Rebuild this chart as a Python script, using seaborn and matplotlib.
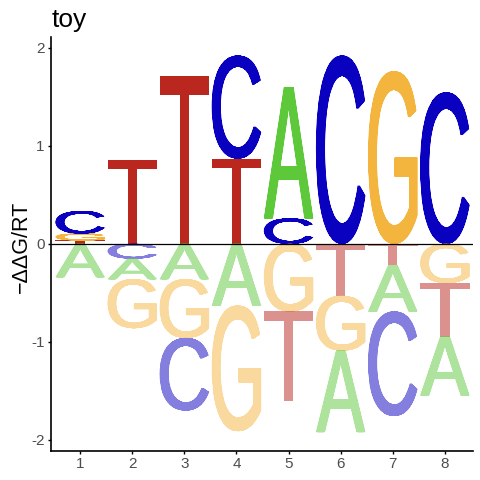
import numpy as np
import pandas as pd
import matplotlib
matplotlib.use("Agg")
import matplotlib.pyplot as plt
import seaborn as sns
from matplotlib.textpath import TextPath
from matplotlib.patches import PathPatch
from matplotlib.path import Path
from matplotlib.font_manager import FontProperties
from matplotlib.transforms import Affine2D

# ---- data (energy logo, -ddG/RT per position) ----
positions = [1, 2, 3, 4, 5, 6, 7, 8]
bases = ["A", "C", "G", "T"]
A_vals = [-0.34, -0.21, -0.36, -0.63, 1.34, -0.83, -0.47, -0.60]
C_vals = [0.23, -0.15, -0.74, 1.05, 0.26, 1.92, -1.065, 1.545]
G_vals = [0.07, -0.50, -0.60, -1.28, -0.69, -0.56, 1.76, -0.40]
T_vals = [0.035, 0.86, 1.71, 0.87, -0.91, -0.53, -0.22, -0.546]
x_ticks = [1, 2, 3, 4, 5, 6, 7, 8]
y_ticks = [-2, -1, 0, 1, 2]
title = "toy"
y_label = "\u2212\u0394\u0394G/RT"

df = pd.DataFrame({"pos": positions, "A": A_vals, "C": C_vals, "G": G_vals, "T": T_vals})

colors = {"A": "#5DC93A", "C": "#0A00C0", "G": "#F4B53F", "T": "#B9271E"}
# slight horizontal stroke heaviness of the logo glyphs (fraction of letter width)
heavy = {"A": 0.045, "C": 0.04, "G": 0.04, "T": 0.03}

sns.set_theme(style="ticks")
plt.rcParams['font.family'] = ['Liberation Sans', 'DejaVu Sans']

fig = plt.figure(figsize=(4.8, 4.8), dpi=100)
ax = fig.add_axes([51 / 480, 1 - 450.7 / 480, 422 / 480, (450.7 - 37) / 480])

fp = FontProperties(family='Liberation Sans')


def unit_glyph(letter, d, n=6):
    tp = TextPath((0, 0), letter, size=1, prop=fp)
    ext = tp.get_extents()
    base = Affine2D().translate(-ext.x0, -ext.y0).scale((1 - d) / ext.width, 1 / ext.height)
    p0 = base.transform_path(tp)
    copies = [Affine2D().translate(d * k / n, 0).transform_path(p0) for k in range(n + 1)]
    return Path.make_compound_path(*copies)


glyphs = {b: unit_glyph(b, heavy[b]) for b in bases}

LW = 0.95


def draw_letter(letter, x, y0, y1, color, alpha):
    tr = Affine2D().scale(LW, y1 - y0).translate(x - LW / 2, y0)
    p = tr.transform_path(glyphs[letter])
    ax.add_patch(PathPatch(p, facecolor=color, edgecolor='none', lw=0, alpha=alpha))


for _, row in df.iterrows():
    x = row["pos"]
    vals = [(b, row[b]) for b in bases]
    pos = sorted([v for v in vals if v[1] > 0], key=lambda t: t[1])
    neg = sorted([v for v in vals if v[1] < 0], key=lambda t: -t[1])
    y = 0.0
    for b, v in pos:
        draw_letter(b, x, y, y + v, colors[b], 1.0)
        y += v
    y = 0.0
    for b, v in neg:
        draw_letter(b, x, y + v, y, colors[b], 0.5)
        y += v

ax.axhline(0, color="black", lw=0.9, zorder=5)

ax.set_xlim(0.44, 8.54)
ax.set_ylim(-2.11, 2.11)
ax.set_xticks(x_ticks)
ax.set_xticklabels([str(t) for t in x_ticks])
ax.set_yticks(y_ticks)
ax.set_yticklabels([str(t) for t in y_ticks])
sns.despine(ax=ax)
for s in ["left", "bottom"]:
    ax.spines[s].set_color("black")
    ax.spines[s].set_linewidth(1.2)
ax.tick_params(axis="both", length=2.2, width=1.0, color="black", labelcolor="#4D4D4D",
               labelsize=11, pad=2.5, direction="out")
ax.set_facecolor("white")
ax.grid(False)

fig.text(52 / 480, 1 - 27 / 480, title, fontsize=19, ha="left", va="baseline", color="black")
fig.text(21 / 480, 1 - 247 / 480, y_label, fontsize=15.5, rotation=90, ha="center", va="center",
         color="black")

fig.savefig("out.png", dpi=100, facecolor="white")
